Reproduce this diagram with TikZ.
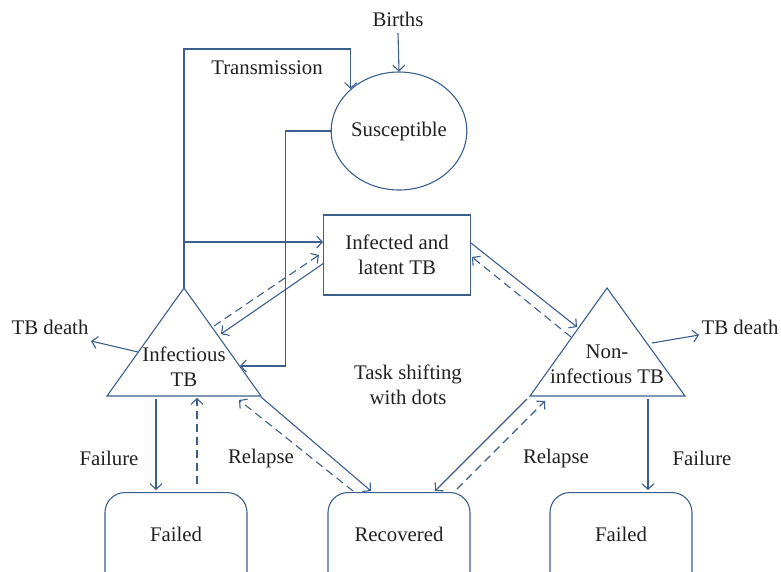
\documentclass[tikz,border=0pt]{standalone}
\usepackage{fontspec}
\setmainfont{Liberation Serif}
\usetikzlibrary{arrows.meta,shapes.geometric}
\definecolor{ln}{HTML}{3B5E8C}
\definecolor{tx}{HTML}{231F20}
\begin{document}
\begin{tikzpicture}[x=1pt,y=-1pt,
  every node/.style={text=tx,font=\rmfamily\fontsize{20.8}{25}\selectfont,align=center,inner sep=0pt},
  ln/.style={draw=ln,line width=1.1pt},
  arr/.style={ln,-{Straight Barb[length=5.5pt,width=12pt,line width=1.1pt]}},
  dsh/.style={arr,dash pattern=on 8pt off 5pt},
  rbox/.style={ln,rounded corners=20pt,minimum width=142pt,minimum height=140pt,anchor=north}]
\useasboundingbox (0,0) rectangle (781,571);
\clip (0,0) rectangle (781,571);
% shapes
\node[ln,ellipse,minimum width=134pt,minimum height=118pt] (sus) at (399,131) {Susceptible};
\node[ln,rectangle,minimum width=147pt,minimum height=80pt] (lat) at (397,255) {Infected and\\latent TB};
\coordinate (IA) at (184,288); \coordinate (IL) at (107,396); \coordinate (IR) at (261,396);
\coordinate (NA) at (607,288); \coordinate (NL) at (530,396); \coordinate (NR) at (685,396);
\draw[ln] (IA) -- (IL) -- (IR) -- cycle;
\draw[ln] (NA) -- (NL) -- (NR) -- cycle;
\node (inf) at (184,367) {Infectious\\TB};
\node (non) at (607,364) {Non-\\infectious TB};
\node[rbox] (f1) at (176,492) {};
\node[rbox] (rec) at (399,492) {};
\node[rbox] (f2) at (621,492) {};
\node (f1t) at (176,534) {Failed};
\node (rect) at (399,534) {Recovered};
\node (f2t) at (621,534) {Failed};
% labels
\node (births) at (398,19) {Births};
\node (trans) at (267,68) {Transmission};
\node (deathL) at (50,327) {TB death};
\node (deathR) at (740,327) {TB death};
\node (task) at (408,385) {Task shifting\\with dots};
\node (failL) at (109,458) {Failure};
\node (relL) at (261,458) {Relapse};
\node (relR) at (556,458) {Relapse};
\node (failR) at (702,458) {Failure};
% coordinates
\coordinate (top) at (184,49);
\coordinate (j1) at (184,242);
\coordinate (IRe) at (240,366);
\coordinate (dL1) at (138,352); \coordinate (dL2) at (91,341);
\coordinate (dR1) at (652,343); \coordinate (dR2) at (699,335);
\coordinate (a1) at (214,326); \coordinate (a2) at (319,255);
\coordinate (b1) at (324,263); \coordinate (b2) at (221,334);
\coordinate (c1) at (471,243); \coordinate (c2) at (577,327);
\coordinate (e1) at (571,337); \coordinate (e2) at (472,257);
\coordinate (g1) at (156,399); \coordinate (g2) at (156,490);
\coordinate (h1) at (197,484); \coordinate (h2) at (197,398);
\coordinate (k1) at (353,491); \coordinate (k2) at (239,400);
\coordinate (m1) at (261,397); \coordinate (m2) at (371,491);
\coordinate (n1) at (527,399); \coordinate (n2) at (435,491);
\coordinate (p1) at (457,489); \coordinate (p2) at (545,401);
\coordinate (q1) at (648,399); \coordinate (q2) at (648,490);
\coordinate (bs) at (398,33);
% connectors
\draw[arr] (bs) -- (sus.north);
\draw[arr] (IA) -- (top) -| (sus.north west);
\draw[arr] (sus.west) -- ++(-45,0) |- (IRe);
\draw[arr] (j1) -- (lat.west |- j1);
\draw[arr] (dL1) -- (dL2);
\draw[arr] (dR1) -- (dR2);
\draw[dsh] (a1) -- (a2);
\draw[arr] (b1) -- (b2);
\draw[arr] (c1) -- (c2);
\draw[dsh] (e1) -- (e2);
\draw[arr] (g1) -- (g2);
\draw[dsh] (h1) -- (h2);
\draw[dsh] (k1) -- (k2);
\draw[arr] (m1) -- (m2);
\draw[arr] (n1) -- (n2);
\draw[dsh] (p1) -- (p2);
\draw[arr] (q1) -- (q2);
\end{tikzpicture}
\end{document}
